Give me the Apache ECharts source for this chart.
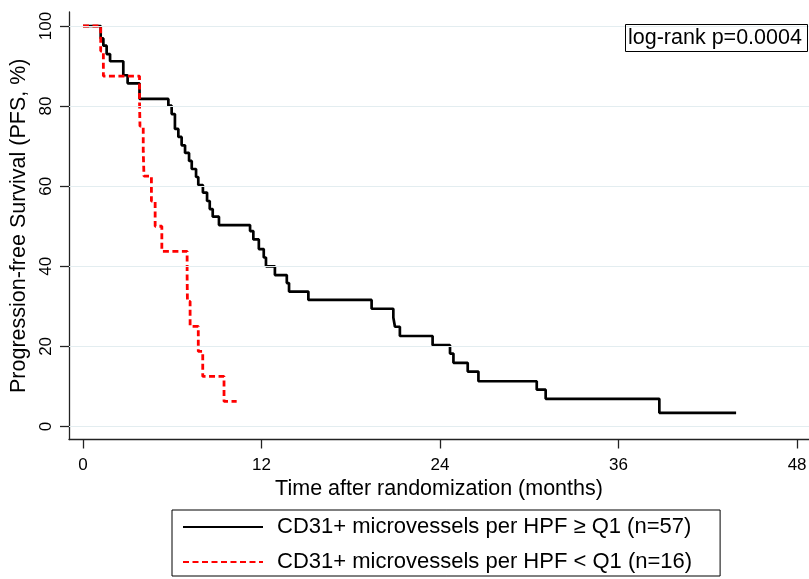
<!DOCTYPE html>
<html>
<head>
<meta charset="utf-8">
<script src="https://cdn.jsdelivr.net/npm/echarts@6/dist/echarts.min.js"></script>
<style>
  html, body { margin: 0; padding: 0; background: #fff; }
  #chart { width: 809px; height: 579px; }
</style>
</head>
<body>
<div id="chart"></div>
<script>
// tick labels
const xTicks = [0, 12, 24, 36, 48];
const yTicks = [0, 20, 40, 60, 80, 100];

// Kaplan-Meier steps: [month, survival %]
const highGroup = [
  [0, 100], [1.19, 96.9], [1.37, 95.1], [1.59, 93.0], [1.82, 91.2],
  [2.71, 87.7], [3.0, 85.7], [3.8, 81.8], [5.74, 80.1], [5.96, 78.0],
  [6.18, 74.3], [6.41, 72.3], [6.63, 70.2], [6.86, 68.3], [7.13, 66.3],
  [7.31, 64.3], [7.6, 62.3], [7.75, 60.3], [8.06, 58.4], [8.34, 56.3],
  [8.52, 54.3], [8.72, 52.4], [9.14, 50.3], [11.23, 48.8], [11.45, 46.7],
  [11.82, 44.3], [12.15, 42.2], [12.3, 40.0], [12.9, 37.8], [13.7, 35.8],
  [13.85, 33.7], [15.15, 31.6], [19.4, 29.4], [20.86, 27.2], [20.97, 24.9],
  [21.3, 22.6], [23.5, 20.3], [24.67, 18.2], [24.9, 15.9], [25.86, 13.7],
  [26.58, 11.3], [30.5, 9.2], [31.1, 6.9], [38.74, 3.4], [43.9, 3.4]
];
const lowGroup = [
  [0, 100], [1.19, 93.75], [1.37, 87.5], [3.8, 81.25], [3.83, 75],
  [4.05, 68.75], [4.1, 62.5], [4.6, 56.25], [4.85, 50], [5.3, 43.75],
  [7.0, 37.5], [7.02, 31.25], [7.2, 25], [7.75, 18.75], [8.05, 12.5],
  [9.48, 6.25], [10.33, 6.25]
];

const seriesNames = [
  'CD31+ microvessels per HPF \u2265 Q1 (n=57)',
  'CD31+ microvessels per HPF < Q1 (n=16)'
];
const annotation = 'log-rank p=0.0004';

const font = 'Liberation Sans, Arial, sans-serif';
const chart = echarts.init(document.getElementById('chart'));

const option = {
  animation: false,
  backgroundColor: '#fff',
  textStyle: { fontFamily: font, color: '#000' },
  grid: {
    left: 69, right: 0, top: 12, bottom: 139.5,
    containLabel: false, outerBoundsMode: 'none'
  },
  title: {
    text: annotation,
    left: 625, top: 24,
    padding: [3, 6, 3, 3],
    borderColor: '#000', borderWidth: 1,
    textStyle: { fontFamily: font, fontSize: 21.5, fontWeight: 'normal', color: '#000', lineHeight: 22 }
  },
  legend: {
    orient: 'vertical',
    left: 172, top: 510,
    padding: [6, 28, 3, 10],
    itemGap: 13,
    itemWidth: 80, itemHeight: 14,
    borderColor: '#000', borderWidth: 1,
    itemStyle: { opacity: 0 },
    data: seriesNames,
    textStyle: { fontFamily: font, fontSize: 22, color: '#000', padding: [0, 0, 0, 9] }
  },
  xAxis: {
    type: 'value',
    min: -0.94, max: 48.8,
    name: 'Time after randomization (months)',
    nameLocation: 'middle', nameGap: 38,
    nameTextStyle: { fontFamily: font, fontSize: 21.5, color: '#000' },
    axisLine: { onZero: false, lineStyle: { color: '#222', width: 1.3 } },
    axisTick: { length: 9, customValues: xTicks, lineStyle: { color: '#222', width: 1.3 } },
    axisLabel: { customValues: xTicks, margin: 17, fontSize: 17, color: '#000', fontFamily: font },
    splitLine: { show: false }
  },
  yAxis: {
    type: 'value',
    min: -3.25, max: 103.5,
    name: 'Progression-free Survival (PFS, %)',
    nameLocation: 'middle', nameGap: 36,
    nameTextStyle: { fontFamily: font, fontSize: 21.5, color: '#000' },
    axisLine: { show: true, onZero: false, lineStyle: { color: '#222', width: 1.3 } },
    axisTick: { show: true, length: 9, customValues: yTicks, lineStyle: { color: '#222', width: 1.3 } },
    axisLabel: { customValues: yTicks, rotate: 90, margin: 14, fontSize: 17, color: '#000', fontFamily: font },
    splitLine: { show: false }
  },
  series: [
    {
      // horizontal grid lines at the y ticks
      type: 'line', data: [], z: 1, silent: true,
      markLine: {
        silent: true, symbol: 'none', animation: false,
        label: { show: false },
        lineStyle: { color: '#e3edf0', width: 1.2, type: 'solid' },
        data: yTicks.map(v => ({ yAxis: v }))
      }
    },
    {
      name: seriesNames[0],
      type: 'line', step: 'end', z: 3,
      data: highGroup,
      showSymbol: false, symbol: 'none',
      lineStyle: { color: '#000', width: 2.7 },
      itemStyle: { color: '#000' }
    },
    {
      name: seriesNames[1],
      type: 'line', step: 'end', z: 4,
      data: lowGroup,
      showSymbol: false, symbol: 'none',
      lineStyle: { color: '#ff0000', width: 2.8, type: [6, 3.5] },
      itemStyle: { color: '#ff0000' }
    }
  ]
};

chart.setOption(option);
</script>
</body>
</html>
